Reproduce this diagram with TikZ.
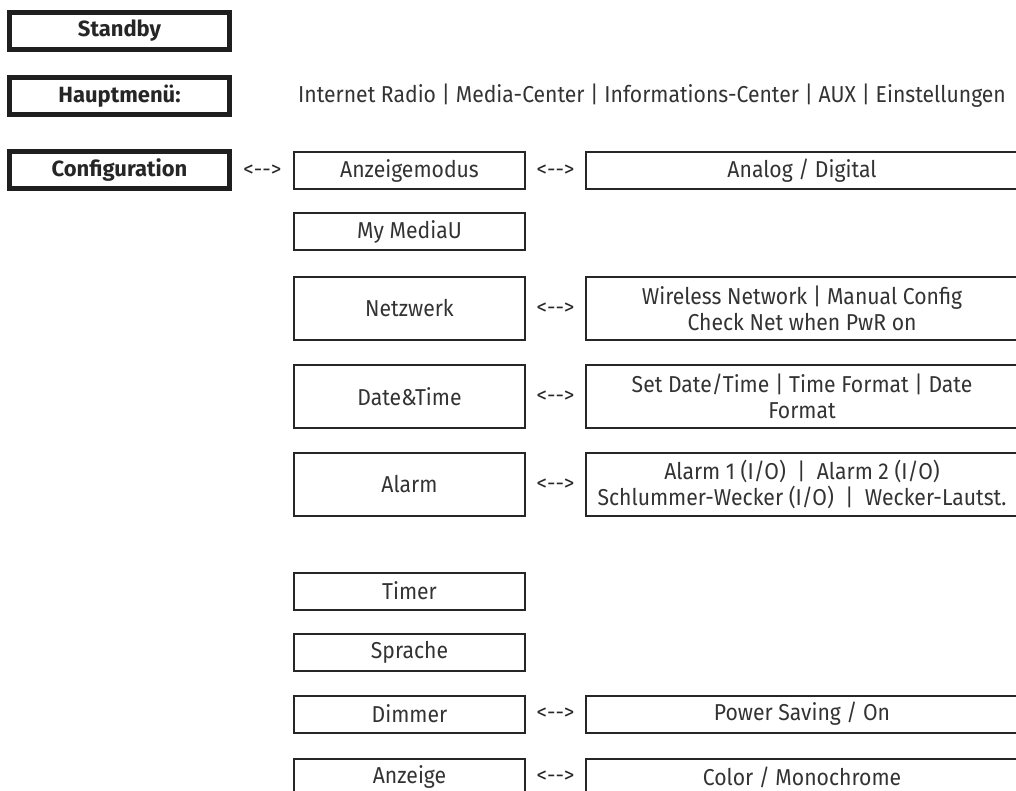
\documentclass[tikz,border=0pt]{standalone}
\usepackage{fontspec}
\setmainfont{Fira Sans}
\newfontfamily\menufont[FakeStretch=0.92]{Fira Sans}
\usepackage{tikz}
\usetikzlibrary{positioning,calc}
\tikzset{
  mainbox/.style ={rectangle, draw=black!88, line width=4.5pt, inner sep=0pt,
                   minimum width=220pt, minimum height=37pt, text=black!85,
                   font=\fontsize{22}{26}\selectfont\bfseries},
  menubox/.style ={rectangle, draw=black!85, line width=2pt, inner sep=0pt,
                   minimum width=231pt, minimum height=37pt, align=center,
                   text=black!80, font=\menufont\fontsize{23}{26}\selectfont},
  tallbox/.style ={menubox, minimum height=63pt},
  optbox/.style  ={menubox, minimum width=432pt},
  tallopt/.style ={optbox, minimum height=63pt},
  swaptxt/.style ={inner sep=0pt, text=black!85, font=\fontsize{21}{25}\selectfont},
  listtxt/.style ={inner sep=0pt, text=black!80, font=\menufont\fontsize{23}{27}\selectfont}
}

\begin{document}
\begin{tikzpicture}[x=1pt, y=-1pt]
  \useasboundingbox (0,0) rectangle (1016,791);
  \clip (0,0) rectangle (1016,791);
  % top level
  \node[mainbox] (stby)  at (119.5,31)  {Standby};
  \node[mainbox] (haupt) at (119.5,96)  {Hauptmenü:};
  \node[mainbox] (conf)  at (119.5,170) {Configuration};
  \node[listtxt] (hlist) at (652,96)
    {Internet Radio | Media-Center | Informations-Center | AUX | Einstellungen};
  % configuration entries
  \node[menubox] (anzm)  at (409.5,170.5) {Anzeigemodus};
  \node[menubox] (media) at (409.5,232)   {My MediaU};
  \node[tallbox] (netz)  at (409.5,308.5) {Netzwerk};
  \node[tallbox] (datum) at (409.5,396.5) {Date\&Time};
  \node[tallbox] (alarm) at (409.5,484.5) {Alarm};
  \node[menubox] (timer) at (409.5,591)   {Timer};
  \node[menubox] (sprache) at (409.5,652.5) {Sprache};
  \node[menubox] (dimm)  at (409.5,714)   {Dimmer};
  \node[menubox] (anzg)  at (409.5,777)   {Anzeige};
  % options
  \node[optbox]  (anadig) at (802,170.5) {Analog / Digital};
  \node[tallopt] (netopt) at (802,308.5)
    {Wireless Network | Manual Config\\Check Net when PwR on};
  \node[tallopt] (datopt) at (802,396.5)
    {Set Date/Time | Time Format | Date\\Format};
  \node[tallopt] (alopt)  at (802,484.5)
    {Alarm 1 (I/O)~~|~~Alarm 2 (I/O)\\Schlummer-Wecker (I/O)~~|~~Wecker-Lautst.};
  \node[optbox]  (dimopt) at (802,714) {Power Saving / On};
  \node[optbox]  (anzopt) at (802,777) {Color / Monochrome};
  % swap marks
  \node[swaptxt] (s0) at ($(conf.east)!0.5!(anzm.west)$)   {<-{}->};
  \node[swaptxt] (s1) at ($(anzm.east)!0.5!(anadig.west)$) {<-{}->};
  \node[swaptxt] (s2) at ($(netz.east)!0.5!(netopt.west)$) {<-{}->};
  \node[swaptxt] (s3) at ($(datum.east)!0.5!(datopt.west)$) {<-{}->};
  \node[swaptxt] (s4) at ($(alarm.east)!0.5!(alopt.west)$) {<-{}->};
  \node[swaptxt] (s5) at ($(dimm.east)!0.5!(dimopt.west)$) {<-{}->};
  \node[swaptxt] (s6) at ($(anzg.east)!0.5!(anzopt.west)$) {<-{}->};
\end{tikzpicture}
\end{document}
